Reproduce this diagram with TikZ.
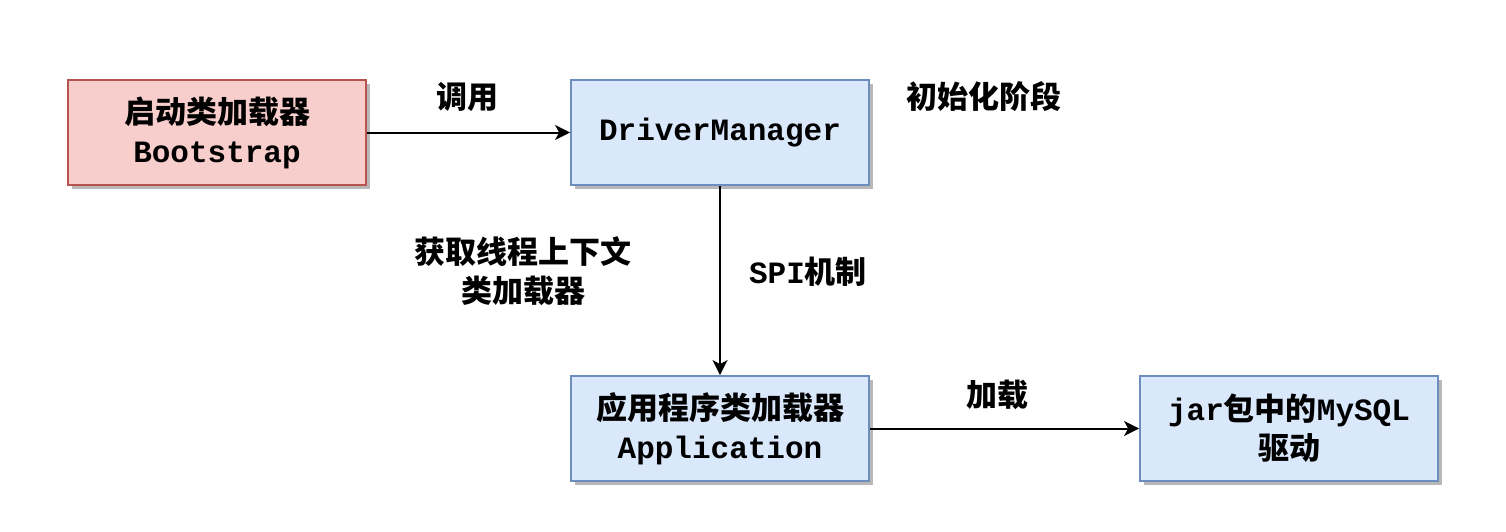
\documentclass[tikz,border=0pt]{standalone}
\usepackage{fontspec}
\usetikzlibrary{arrows.meta,shadows}
\newfontfamily\cjk{Noto Sans CJK SC}
\newfontfamily\mono{Liberation Mono}
\definecolor{redfill}{HTML}{F8CECC}
\definecolor{reddraw}{HTML}{B85450}
\definecolor{bluefill}{HTML}{DAE8FC}
\definecolor{bluedraw}{HTML}{6C8EBF}
\tikzset{
  box/.style={rectangle,minimum width=298pt,minimum height=105pt,inner sep=0pt,
    line width=1.8pt,align=center,font=\fontsize{31}{39}\selectfont\bfseries,
    drop shadow={shadow xshift=4pt,shadow yshift=-4pt,fill=black!28,opacity=1}},
  redbox/.style={box,fill=redfill,draw=reddraw},
  bluebox/.style={box,fill=bluefill,draw=bluedraw},
  lbl/.style={align=center,inner sep=0pt,font=\fontsize{31}{39}\selectfont\bfseries},
  conn/.style={line width=2pt,-{Stealth[length=15pt,width=15pt,inset=4pt]}}
}

\begin{document}
\begin{tikzpicture}[x=1pt,y=-1pt]
        \useasboundingbox (0,0) rectangle (1506,532);
        \node[redbox] (boot) at (217,132.5) {{\cjk 启动类加载器}\\{\mono Bootstrap}};
        \node[bluebox] (dm) at (720,132.5) {\mono DriverManager};
        \node[bluebox] (app) at (720,428.5) {{\cjk 应用程序类加载器}\\{\mono Application}};
        \node[bluebox] (jar) at (1289,428.5) {{\mono jar}{\cjk 包中的}{\mono MySQL}\\{\cjk 驱动}};
        \draw[conn] (boot.east) -- (dm.west);
        \draw[conn] (dm.south) -- (app.north);
        \draw[conn] (app.east) -- (jar.west);
        \node[lbl] (call) at (467,97) {\cjk 调用};
        \node[lbl] (init) at (984,97) {\cjk 初始化阶段};
        \node[lbl] (ctx) at (523,271) {\cjk 获取线程上下文\\\cjk 类加载器};
        \node[lbl] (spi) at (808,272) {{\mono SPI}{\cjk 机制}};
        \node[lbl] (load) at (997,395) {\cjk 加载};
    \end{tikzpicture}
\end{document}
